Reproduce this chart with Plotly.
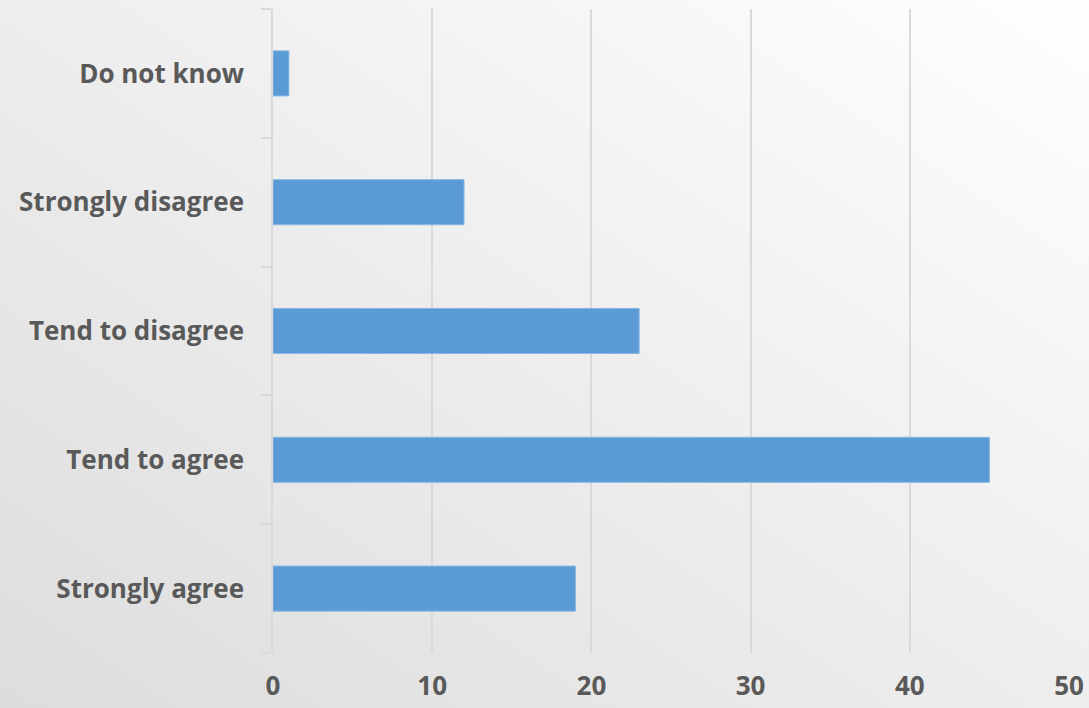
import plotly.graph_objects as go
import base64

categories = ["Strongly agree", "Tend to agree", "Tend to disagree", "Strongly disagree", "Do not know"]
values = [19, 45, 23, 12, 1]
x_ticks = [0, 10, 20, 30, 40, 50]

svg = ('<svg xmlns="http://www.w3.org/2000/svg" width="1100" height="720" preserveAspectRatio="none">'
       '<defs><linearGradient id="g" x1="0" y1="1" x2="1" y2="0">'
       '<stop offset="0" stop-color="#dcdcdc"/><stop offset="1" stop-color="#ffffff"/>'
       '</linearGradient></defs><rect width="1100" height="720" fill="url(#g)"/></svg>')
bg = "data:image/svg+xml;base64," + base64.b64encode(svg.encode()).decode()

fig = go.Figure(go.Bar(
    x=values, y=categories, orientation="h",
    marker=dict(color="#5B9BD5", line=dict(color="#8ab6e2", width=1)),
    width=0.35,
))

font = dict(family="Open Sans", size=26, color="#595959", weight="bold")

pw, ph = 796, 644
fig.update_layout(
    width=1089, height=708,
    margin=dict(l=273, r=20, t=9, b=55),
    paper_bgcolor="#eaeaea", plot_bgcolor="rgba(0,0,0,0)",
    showlegend=False,
    images=[dict(source=bg, xref="paper", yref="paper", x=-280/pw, y=1+20/ph,
                 sizex=1110/pw, sizey=740/ph, sizing="stretch",
                 xanchor="left", yanchor="top", layer="below")],
    xaxis=dict(range=[0, 50], tickvals=x_ticks, showgrid=True, gridcolor="#d9d9d9", gridwidth=1.5,
               zeroline=False, showline=False, ticks="outside", ticklen=10, tickcolor="rgba(0,0,0,0)",
               tickfont=font, fixedrange=True, automargin=False),
    yaxis=dict(categoryorder="array", categoryarray=categories, showgrid=False,
               showline=True, linecolor="#d9d9d9", linewidth=1.5,
               ticks="outside", tickson="boundaries", ticklen=10, tickcolor="#d9d9d9", tickwidth=1.5,
               ticklabelstandoff=22, tickfont=font, fixedrange=True, automargin=False),
)

fig.write_html("out.html")
